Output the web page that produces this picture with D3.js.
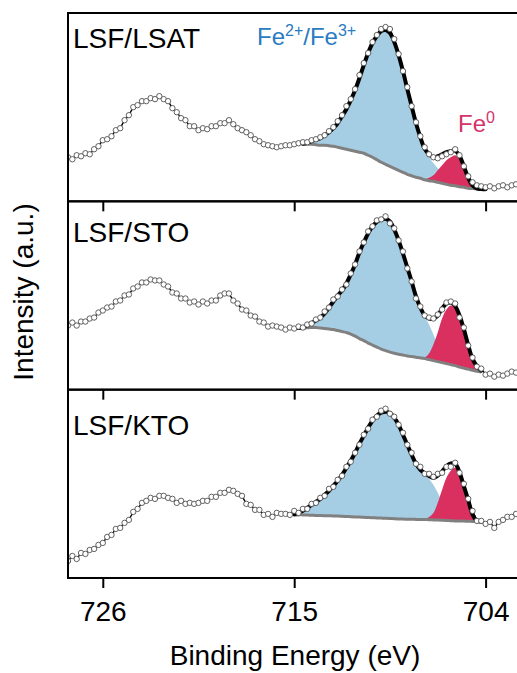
<!DOCTYPE html>
<html>
<head>
<meta charset="utf-8">
<script src="https://cdn.jsdelivr.net/npm/d3@7"></script>
<style>
  html, body { margin: 0; padding: 0; background: #fff; }
  svg { display: block; }
  text { font-family: "Liberation Sans", Arial, Helvetica, sans-serif; }
</style>
</head>
<body>
<div id="chart"></div>
<script>
// Fe 2p XPS of LSF films, one panel per substrate
const samples = ['LSF/LSAT', 'LSF/STO', 'LSF/KTO']
const energyTicks = [726, 715, 704]

// measured points, 728.00 -> 702.25 eV every 0.25 eV (a.u.)
const scanStart = 728, scanStep = 0.25
const lsatCounts = [
  44, 42, 46, 45, 48, 47, 52, 55,
  61, 62, 65, 71, 73, 81, 86, 94,
  96, 100, 100, 103, 102, 105, 102, 100,
  93, 89, 83, 81, 75, 75, 71, 73,
  72, 75, 75, 78, 78, 81, 77, 73,
  71, 69, 66, 62, 60, 57, 56, 55,
  54, 55, 56, 56, 57, 58, 59, 59,
  61, 62, 64, 66, 70, 74, 80, 86,
  95, 102, 112, 126, 138, 148, 159, 166,
  172, 174, 172, 162, 147, 130, 114, 95,
  79, 65, 54, 47, 44, 43, 45, 47,
  49, 52, 46, 35, 25, 19, 16, 15,
  14, 15, 13, 15, 16, 14, 16, 17
]
const stoCounts = [
  64, 67, 64, 68, 68, 71, 72, 77,
  79, 82, 83, 88, 89, 94, 95, 101,
  103, 107, 107, 110, 109, 109, 105, 103,
  97, 96, 91, 91, 87, 88, 85, 88,
  86, 89, 89, 94, 96, 96, 89, 86,
  80, 79, 74, 73, 68, 67, 63, 64,
  63, 62, 60, 62, 61, 63, 62, 65,
  66, 70, 72, 78, 82, 90, 93, 100,
  105, 116, 125, 138, 147, 158, 163, 169,
  170, 173, 166, 161, 149, 138, 121, 108,
  91, 83, 74, 72, 71, 75, 80, 87,
  88, 86, 72, 62, 44, 32, 23, 21,
  15, 16, 13, 15, 14, 16, 18, 17
]
const ktoCounts = [
  17, 22, 19, 25, 24, 28, 29, 33,
  35, 41, 43, 49, 50, 55, 58, 66,
  69, 75, 77, 80, 79, 82, 82, 80,
  79, 75, 77, 74, 75, 74, 75, 77,
  77, 81, 81, 85, 85, 88, 87, 84,
  82, 74, 73, 68, 68, 63, 64, 61,
  65, 64, 64, 63, 67, 65, 69, 69,
  74, 75, 80, 82, 89, 91, 98, 102,
  111, 116, 125, 133, 143, 149, 158, 161,
  167, 169, 164, 161, 153, 145, 133, 125,
  114, 111, 104, 104, 101, 104, 105, 111,
  111, 115, 105, 94, 79, 67, 57, 57,
  54, 56, 50, 56, 58, 61, 61, 64
]

// fitted curves, 0.25 eV steps from fitStart[i] downwards
const fitStart = [714.5, 714.75, 715.0]
const lsatBackground = [57, 57, 57, 56.5, 56, 56, 55.5, 55, 54, 53, 52, 51, 50, 49, 48, 46, 44, 41.5, 39, 37, 35, 33, 31, 29, 27, 25.5, 24, 23, 21.5, 20.5, 20, 19, 18, 17, 16, 15.5, 14.5, 14, 13, 12.7, 12.3, 12, 12]
const lsatFe23 = [0.5, 1.5, 3, 5, 7, 10, 13.5, 18, 24, 32, 40, 50, 61, 74, 88, 102, 114, 123.5, 131, 134, 133, 126, 115, 101, 85, 69.5, 54, 41, 30.5, 23.5, 18, 14, 11, 8, 6, 4.5, 3.5, 2, 1.5, 0.8, 0.4, 0.2, 0]
const lsatFe0 = [0, 0, 0, 0, 0, 0, 0, 0, 0, 0, 0, 0, 0, 0, 0, 0, 0, 0, 0, 0, 0, 0, 0, 0, 0, 0, 0, 0, 0.5, 3, 6, 12, 18, 24, 28, 30.5, 27.5, 19, 9, 2.3, 0.2, 0, 0]
const stoBackground = [61, 61.3, 61.7, 62, 62, 61.5, 61, 60.5, 60, 59, 58, 57, 55.5, 53.5, 51, 49, 46.5, 44.5, 42.5, 40.5, 39, 37.5, 36.3, 35.3, 34.5, 33.7, 33, 32.3, 31.7, 31, 30, 29, 28, 27, 26, 25, 24, 22.5, 21.5, 20.5, 19.3, 18.3, 17.5]
const stoFe23 = [0.5, 1.2, 2.3, 4.5, 7, 10.5, 15, 21.5, 28, 35, 41, 49, 59.5, 71.5, 86, 98, 109.5, 118.5, 125, 129.5, 131.5, 130.5, 123.7, 113.7, 101.5, 88.3, 75, 60.7, 50.3, 42, 35, 26, 17, 10, 6, 3, 1.5, 1, 0.5, 0.5, 0.4, 0.2, 0]
const stoFe0 = [0, 0, 0, 0, 0, 0, 0, 0, 0, 0, 0, 0, 0, 0, 0, 0, 0, 0, 0, 0, 0, 0, 0, 0, 0, 0, 0, 0, 0, 1, 6, 16, 29, 44, 54, 59, 58, 50.5, 38.5, 23.5, 11, 5, 1.5]
const ktoBackground = [63, 63, 63, 62.8, 62.6, 62.4, 62.3, 62.2, 62.1, 62, 61.8, 61.6, 61.4, 61.2, 61, 60.8, 60.6, 60.4, 60.2, 60, 59.8, 59.6, 59.4, 59.2, 59, 58.8, 58.7, 58.6, 58.5, 58.4, 58.3, 58.2, 58, 57.8, 57.6, 57.4, 57.2, 57, 56.9, 56.8, 56.6, 56.5, 56.3, 56.2]
const ktoFe23 = [0.5, 2, 4, 7.2, 10.4, 13.6, 16.7, 20.8, 24.9, 30, 35.2, 41.4, 48.6, 55.8, 64, 73.2, 81.4, 89.6, 96.8, 102, 105.2, 106.4, 105.1, 100.8, 94, 84.2, 74.3, 64.4, 55.5, 49.6, 45.7, 40.8, 35, 27.2, 18.4, 11.6, 7.3, 4, 2.6, 1.7, 0.9, 0.5, 0.2, 0]
const ktoFe0 = [0, 0, 0, 0, 0, 0, 0, 0, 0, 0, 0, 0, 0, 0, 0, 0, 0, 0, 0, 0, 0, 0, 0, 0, 0, 0, 0, 0, 0, 0, 0.7, 2.8, 7, 17.2, 30.4, 42.6, 49.8, 53, 46.1, 33.2, 20.4, 6.5, 0.7, 0]

const counts = [lsatCounts, stoCounts, ktoCounts]
const backgrounds = [lsatBackground, stoBackground, ktoBackground]
const fe23 = [lsatFe23, stoFe23, ktoFe23]
const fe0 = [lsatFe0, stoFe0, ktoFe0]

const width = 517, height = 673
const plotLeft = 68, plotRight = 520.4, plotTop = 13, panelH = 188.33
const blueFill = '#a5cee4', redFill = '#d9305f'

const svg = d3.select('#chart').append('svg')
  .attr('width', width)
  .attr('height', height)

const x = d3.scaleLinear().domain([728, 702]).range([plotLeft, plotRight])

svg.append('clipPath').attr('id', 'plot-clip')
  .append('rect')
  .attr('x', plotLeft).attr('y', plotTop)
  .attr('width', plotRight - plotLeft).attr('height', panelH * 3)

samples.forEach((name, i) => {
  const y0 = plotTop + i * panelH
  const y = d3.scaleLinear().domain([0, 188]).range([y0 + panelH, y0])

  const points = counts[i].map((v, k) => ({e: scanStart - k * scanStep, v}))
  const fit = backgrounds[i].map((b, k) => ({
    e: fitStart[i] - k * scanStep,
    bg: b,
    a: fe23[i][k],
    b: fe0[i][k]
  }))

  const g = svg.append('g').attr('class', 'panel').attr('clip-path', 'url(#plot-clip)')

  g.append('path')
    .datum(fit)
    .attr('fill', blueFill)
    .attr('d', d3.area().curve(d3.curveCatmullRom)
      .x(d => x(d.e)).y0(d => y(d.bg)).y1(d => y(d.bg + d.a)))
  g.append('path')
    .datum(fit)
    .attr('fill', redFill)
    .attr('d', d3.area().curve(d3.curveCatmullRom)
      .x(d => x(d.e)).y0(d => y(d.bg)).y1(d => y(d.bg + d.b)))
  g.append('path')
    .datum(fit)
    .attr('fill', 'none')
    .attr('stroke', '#808080')
    .attr('stroke-width', 3)
    .attr('d', d3.line().curve(d3.curveCatmullRom).x(d => x(d.e)).y(d => y(d.bg)))
  g.append('path')
    .datum(fit)
    .attr('fill', 'none')
    .attr('stroke', '#000')
    .attr('stroke-width', 4)
    .attr('stroke-linecap', 'round')
    .attr('d', d3.line().curve(d3.curveCatmullRom).x(d => x(d.e)).y(d => y(d.bg + d.a + d.b)))

  g.append('path')
    .datum(points)
    .attr('fill', 'none')
    .attr('stroke', '#000')
    .attr('stroke-width', 1.4)
    .attr('d', d3.line().x(d => x(d.e)).y(d => y(d.v)))
  g.selectAll('circle.pt')
    .data(points)
    .join('circle')
    .attr('class', 'pt')
    .attr('cx', d => x(d.e))
    .attr('cy', d => y(d.v))
    .attr('r', 2.7)
    .attr('fill', '#fff')
    .attr('stroke', '#505050')
    .attr('stroke-width', 0.9)

  // frame
  svg.append('rect')
    .attr('x', plotLeft).attr('y', y0)
    .attr('width', plotRight - plotLeft).attr('height', panelH)
    .attr('fill', 'none')
    .attr('stroke', '#000')
    .attr('stroke-width', 2)

  // ticks hang below every panel, labels only on the last one
  const axis = d3.axisBottom(x)
    .tickValues(energyTicks)
    .tickSizeInner(10)
    .tickSizeOuter(0)
    .tickPadding(13)
  if (i < samples.length - 1) axis.tickFormat('')
  const ax = svg.append('g')
    .attr('transform', `translate(0,${y0 + panelH})`)
    .call(axis)
  ax.select('.domain').remove()
  ax.selectAll('line').attr('stroke', '#000').attr('stroke-width', 2)
  ax.selectAll('text')
    .attr('fill', '#000')
    .style('font-size', '28px')
    .style('font-family', '"Liberation Sans", Arial, sans-serif')

  svg.append('text')
    .attr('x', 73)
    .attr('y', [48, 242, 435][i])
    .style('font-size', '28px')
    .attr('fill', '#000')
    .text(name)
})

// component labels
const lab23 = svg.append('text')
  .attr('x', 257).attr('y', 45)
  .attr('fill', '#2a7bbf')
  .style('font-size', '24px')
lab23.append('tspan').text('Fe')
lab23.append('tspan').attr('dy', -9).style('font-size', '16px').text('2+')
lab23.append('tspan').attr('dy', 9).text('/Fe')
lab23.append('tspan').attr('dy', -9).style('font-size', '16px').text('3+')

const lab0 = svg.append('text')
  .attr('x', 458).attr('y', 132)
  .attr('fill', '#d4336a')
  .style('font-size', '24px')
lab0.append('tspan').text('Fe')
lab0.append('tspan').attr('dy', -9).style('font-size', '16px').text('0')

svg.append('text')
  .attr('x', 295).attr('y', 665)
  .attr('text-anchor', 'middle')
  .style('font-size', '28px')
  .text('Binding Energy (eV)')

svg.append('text')
  .attr('transform', 'translate(33,292) rotate(-90)')
  .attr('text-anchor', 'middle')
  .style('font-size', '28px')
  .text('Intensity (a.u.)')
</script>
</body>
</html>
